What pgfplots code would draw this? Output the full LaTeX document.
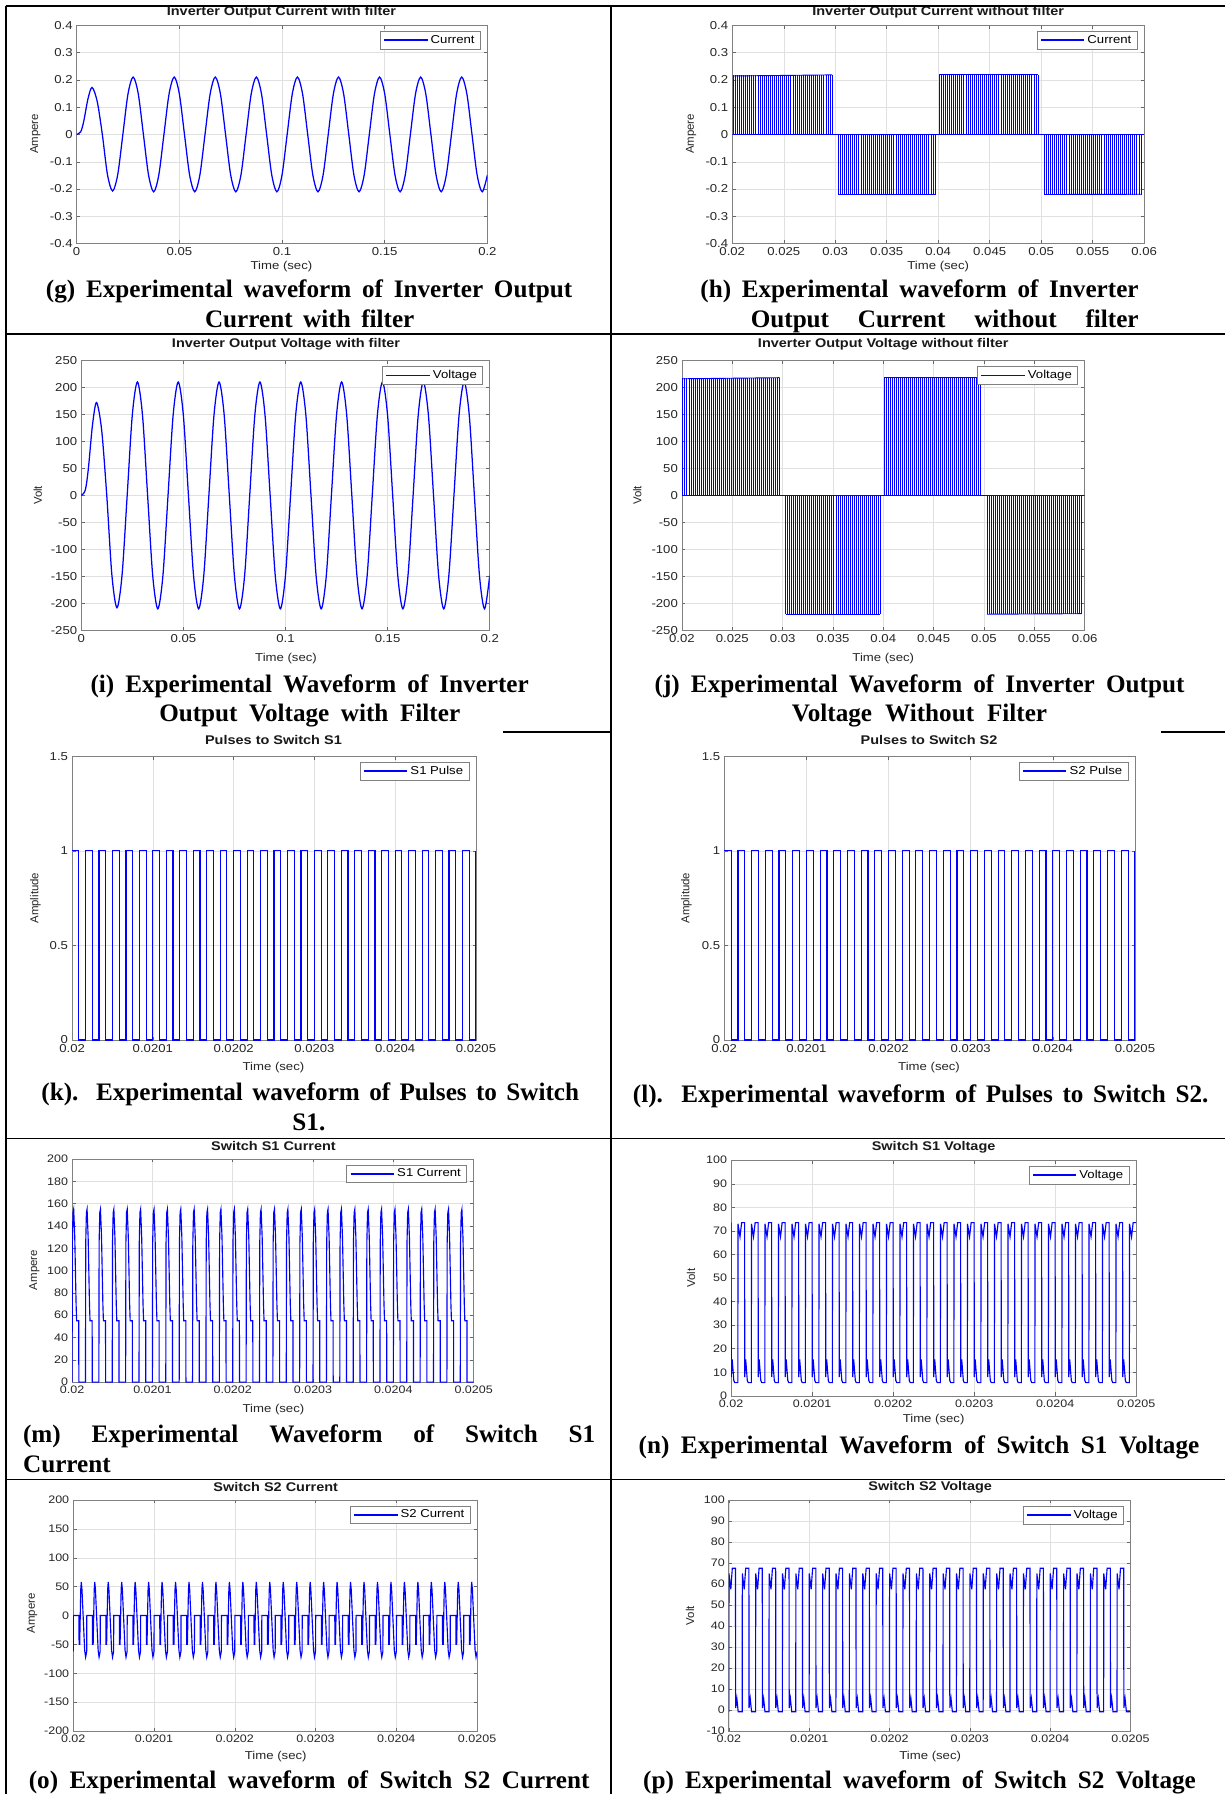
\documentclass[border=0pt]{standalone}
\usepackage{fontspec}
\setmainfont{Liberation Serif}
\newfontfamily\pf[FakeStretch=1.15]{Liberation Sans}
\newfontfamily\pfn{Liberation Sans}
\usepackage{pgfplots}
\pgfplotsset{compat=1.18}
\usepackage{pgfplotstable}

\pgfplotsset{
  mat/.style={
    scale only axis, anchor=north west, clip=true, scaled ticks=false,
    axis line style={draw=black!50, line width=0.6pt},
    grid=major, major grid style={draw=black!12, line width=0.4pt},
    tick align=inside, major tick length=3pt,
    tick style={draw=black!60, line width=0.4pt},
    ticklabel style={font=\pf\fontsize{10}{11}\selectfont, text=black!85},
    legend style={at={(1,1)}, anchor=north east, xshift=-6pt, yshift=-5pt,
      draw=black!50, fill=white, font=\pf\fontsize{10}{11}\selectfont,
      inner xsep=3pt, inner ysep=1.5pt},
    legend cell align=left,
    legend image code/.code={\draw[##1] (0pt,0pt) -- (38pt,0pt);},
  },
  micro/.style={xmin=0, xmax=30, xtick={0,6,12,18,24,30},
    xticklabels={0.02,0.0201,0.0202,0.0203,0.0204,0.0205}},
  tms/.style={xmin=0.02, xmax=0.06, xtick={0.02,0.025,0.03,0.035,0.04,0.045,0.05,0.055,0.06},
    xticklabels={0.02,0.025,0.03,0.035,0.04,0.045,0.05,0.055,0.06}},
  tlong/.style={xmin=0, xmax=0.2, xtick={0,0.05,0.1,0.15,0.2},
    xticklabels={0,0.05,0.1,0.15,0.2}},
}

% sine waves with filter: t, current (A), voltage (V)
\pgfplotstableread[row sep=\\]{t c v\\
0 0 0\\ 0.002 0.01 10\\ 0.0035 0.05 50\\ 0.0055 0.13 130\\ 0.0075 0.172 172\\ 0.01 0.121 121\\ 0.0125 0 0\\ 0.015 -0.147 -147\\ 0.0175 -0.207 -208\\ 0.02 -0.147 -147\\
0.0225 0 0\\ 0.025 0.1485 148.5\\ 0.0275 0.21 210\\ 0.03 0.1485 148.5\\ 0.0325 0 0\\ 0.035 -0.1485 -148.5\\ 0.0375 -0.21 -210\\ 0.04 -0.1485 -148.5\\
0.0425 0 0\\ 0.045 0.1485 148.5\\ 0.0475 0.21 210\\ 0.05 0.1485 148.5\\ 0.0525 0 0\\ 0.055 -0.1485 -148.5\\ 0.0575 -0.21 -210\\ 0.06 -0.1485 -148.5\\
0.0625 0 0\\ 0.065 0.1485 148.5\\ 0.0675 0.21 210\\ 0.07 0.1485 148.5\\ 0.0725 0 0\\ 0.075 -0.1485 -148.5\\ 0.0775 -0.21 -210\\ 0.08 -0.1485 -148.5\\
0.0825 0 0\\ 0.085 0.1485 148.5\\ 0.0875 0.21 210\\ 0.09 0.1485 148.5\\ 0.0925 0 0\\ 0.095 -0.1485 -148.5\\ 0.0975 -0.21 -210\\ 0.1 -0.1485 -148.5\\
0.1025 0 0\\ 0.105 0.1485 148.5\\ 0.1075 0.21 210\\ 0.11 0.1485 148.5\\ 0.1125 0 0\\ 0.115 -0.1485 -148.5\\ 0.1175 -0.21 -210\\ 0.12 -0.1485 -148.5\\
0.1225 0 0\\ 0.125 0.1485 148.5\\ 0.1275 0.21 210\\ 0.13 0.1485 148.5\\ 0.1325 0 0\\ 0.135 -0.1485 -148.5\\ 0.1375 -0.21 -210\\ 0.14 -0.1485 -148.5\\
0.1425 0 0\\ 0.145 0.1485 148.5\\ 0.1475 0.21 210\\ 0.15 0.1485 148.5\\ 0.1525 0 0\\ 0.155 -0.1485 -148.5\\ 0.1575 -0.21 -210\\ 0.16 -0.1485 -148.5\\
0.1625 0 0\\ 0.165 0.1485 148.5\\ 0.1675 0.21 210\\ 0.17 0.1485 148.5\\ 0.1725 0 0\\ 0.175 -0.1485 -148.5\\ 0.1775 -0.21 -210\\ 0.18 -0.1485 -148.5\\
0.1825 0 0\\ 0.185 0.1485 148.5\\ 0.1875 0.21 210\\ 0.19 0.1485 148.5\\ 0.1925 0 0\\ 0.195 -0.1485 -148.5\\ 0.1975 -0.21 -210\\ 0.2 -0.1485 -148.5\\
}\tabGI

% PWM edges without filter: x, current (A), voltage (V)
\pgfplotstableread[row sep=\\]{x c v\\
0.0201 0.218 218\\ 0.0203 0.218 218\\ 0.0205 0.218 218\\ 0.0207 0.218 218\\ 0.0209 0.218 218\\
0.0211 0.218 218\\ 0.0213 0.218 218\\ 0.0215 0.218 218\\ 0.0217 0.218 218\\ 0.0219 0.218 218\\
0.0221 0.218 218\\ 0.0223 0.218 218\\ 0.0225 0.218 218\\ 0.0227 0.218 218\\ 0.0229 0.218 218\\
0.0231 0.218 218\\ 0.0233 0.218 218\\ 0.0235 0.218 218\\ 0.0237 0.218 218\\ 0.0239 0.218 218\\
0.0241 0.218 218\\ 0.0243 0.218 218\\ 0.0245 0.218 218\\ 0.0247 0.218 218\\ 0.0249 0.218 218\\
0.0251 0.218 218\\ 0.0253 0.218 218\\ 0.0255 0.218 218\\ 0.0257 0.218 218\\ 0.0259 0.218 218\\
0.0261 0.218 218\\ 0.0263 0.218 218\\ 0.0265 0.218 218\\ 0.0267 0.218 218\\ 0.0269 0.218 218\\
0.0271 0.218 218\\ 0.0273 0.218 218\\ 0.0275 0.218 218\\ 0.0277 0.218 218\\ 0.0279 0.218 218\\
0.0281 0.218 218\\ 0.0283 0.218 218\\ 0.0285 0.218 218\\ 0.0287 0.218 218\\ 0.0289 0.218 218\\
0.0291 0.218 218\\ 0.0293 0.218 218\\ 0.0295 0.218 218\\ 0.0297 0.218 218\\
0.0303 -0.22 -220\\ 0.0305 -0.22 -220\\ 0.0307 -0.22 -220\\ 0.0309 -0.22 -220\\
0.0311 -0.22 -220\\ 0.0313 -0.22 -220\\ 0.0315 -0.22 -220\\ 0.0317 -0.22 -220\\ 0.0319 -0.22 -220\\
0.0321 -0.22 -220\\ 0.0323 -0.22 -220\\ 0.0325 -0.22 -220\\ 0.0327 -0.22 -220\\ 0.0329 -0.22 -220\\
0.0331 -0.22 -220\\ 0.0333 -0.22 -220\\ 0.0335 -0.22 -220\\ 0.0337 -0.22 -220\\ 0.0339 -0.22 -220\\
0.0341 -0.22 -220\\ 0.0343 -0.22 -220\\ 0.0345 -0.22 -220\\ 0.0347 -0.22 -220\\ 0.0349 -0.22 -220\\
0.0351 -0.22 -220\\ 0.0353 -0.22 -220\\ 0.0355 -0.22 -220\\ 0.0357 -0.22 -220\\ 0.0359 -0.22 -220\\
0.0361 -0.22 -220\\ 0.0363 -0.22 -220\\ 0.0365 -0.22 -220\\ 0.0367 -0.22 -220\\ 0.0369 -0.22 -220\\
0.0371 -0.22 -220\\ 0.0373 -0.22 -220\\ 0.0375 -0.22 -220\\ 0.0377 -0.22 -220\\ 0.0379 -0.22 -220\\
0.0381 -0.22 -220\\ 0.0383 -0.22 -220\\ 0.0385 -0.22 -220\\ 0.0387 -0.22 -220\\ 0.0389 -0.22 -220\\
0.0391 -0.22 -220\\ 0.0393 -0.22 -220\\ 0.0395 -0.22 -220\\ 0.0397 -0.22 -220\\
0.0401 0.218 219\\ 0.0403 0.218 219\\ 0.0405 0.218 219\\ 0.0407 0.218 219\\ 0.0409 0.218 219\\
0.0411 0.218 219\\ 0.0413 0.218 219\\ 0.0415 0.218 219\\ 0.0417 0.218 219\\ 0.0419 0.218 219\\
0.0421 0.218 219\\ 0.0423 0.218 219\\ 0.0425 0.218 219\\ 0.0427 0.218 219\\ 0.0429 0.218 219\\
0.0431 0.218 219\\ 0.0433 0.218 219\\ 0.0435 0.218 219\\ 0.0437 0.218 219\\ 0.0439 0.218 219\\
0.0441 0.218 219\\ 0.0443 0.218 219\\ 0.0445 0.218 219\\ 0.0447 0.218 219\\ 0.0449 0.218 219\\
0.0451 0.218 219\\ 0.0453 0.218 219\\ 0.0455 0.218 219\\ 0.0457 0.218 219\\ 0.0459 0.218 219\\
0.0461 0.218 219\\ 0.0463 0.218 219\\ 0.0465 0.218 219\\ 0.0467 0.218 219\\ 0.0469 0.218 219\\
0.0471 0.218 219\\ 0.0473 0.218 219\\ 0.0475 0.218 219\\ 0.0477 0.218 219\\ 0.0479 0.218 219\\
0.0481 0.218 219\\ 0.0483 0.218 219\\ 0.0485 0.218 219\\ 0.0487 0.218 219\\ 0.0489 0.218 219\\
0.0491 0.218 219\\ 0.0493 0.218 219\\ 0.0495 0.218 219\\ 0.0497 0.218 219\\
0.0503 -0.22 -220\\ 0.0505 -0.22 -220\\ 0.0507 -0.22 -220\\ 0.0509 -0.22 -220\\
0.0511 -0.22 -220\\ 0.0513 -0.22 -220\\ 0.0515 -0.22 -220\\ 0.0517 -0.22 -220\\ 0.0519 -0.22 -220\\
0.0521 -0.22 -220\\ 0.0523 -0.22 -220\\ 0.0525 -0.22 -220\\ 0.0527 -0.22 -220\\ 0.0529 -0.22 -220\\
0.0531 -0.22 -220\\ 0.0533 -0.22 -220\\ 0.0535 -0.22 -220\\ 0.0537 -0.22 -220\\ 0.0539 -0.22 -220\\
0.0541 -0.22 -220\\ 0.0543 -0.22 -220\\ 0.0545 -0.22 -220\\ 0.0547 -0.22 -220\\ 0.0549 -0.22 -220\\
0.0551 -0.22 -220\\ 0.0553 -0.22 -220\\ 0.0555 -0.22 -220\\ 0.0557 -0.22 -220\\ 0.0559 -0.22 -220\\
0.0561 -0.22 -220\\ 0.0563 -0.22 -220\\ 0.0565 -0.22 -220\\ 0.0567 -0.22 -220\\ 0.0569 -0.22 -220\\
0.0571 -0.22 -220\\ 0.0573 -0.22 -220\\ 0.0575 -0.22 -220\\ 0.0577 -0.22 -220\\ 0.0579 -0.22 -220\\
0.0581 -0.22 -220\\ 0.0583 -0.22 -220\\ 0.0585 -0.22 -220\\ 0.0587 -0.22 -220\\ 0.0589 -0.22 -220\\
0.0591 -0.22 -220\\ 0.0593 -0.22 -220\\ 0.0595 -0.22 -220\\ 0.0597 -0.22 -220\\
}\tabHJ

% gate pulses, x in switching periods (30 periods = 0.0005 s)
\pgfplotstableread[row sep=\\]{x y\\
0 1\\ 0.5 0\\ 1 1\\ 1.5 0\\ 2 1\\ 2.5 0\\ 3 1\\ 3.5 0\\ 4 1\\ 4.5 0\\ 5 1\\ 5.5 0\\
6 1\\ 6.5 0\\ 7 1\\ 7.5 0\\ 8 1\\ 8.5 0\\ 9 1\\ 9.5 0\\ 10 1\\ 10.5 0\\ 11 1\\ 11.5 0\\
12 1\\ 12.5 0\\ 13 1\\ 13.5 0\\ 14 1\\ 14.5 0\\ 15 1\\ 15.5 0\\ 16 1\\ 16.5 0\\ 17 1\\ 17.5 0\\
18 1\\ 18.5 0\\ 19 1\\ 19.5 0\\ 20 1\\ 20.5 0\\ 21 1\\ 21.5 0\\ 22 1\\ 22.5 0\\ 23 1\\ 23.5 0\\
24 1\\ 24.5 0\\ 25 1\\ 25.5 0\\ 26 1\\ 26.5 0\\ 27 1\\ 27.5 0\\ 28 1\\ 28.5 0\\ 29 1\\ 29.5 0\\
30 1\\
}\tabK

% switch S1 current
\pgfplotstableread[row sep=\\]{x y\\
0 0\\ 0.02 125\\ 0.07 152\\ 0.12 155\\ 0.2 130\\ 0.3 70\\ 0.34 55\\ 0.5 55\\ 0.505 0\\
1 0\\ 1.02 125\\ 1.07 152\\ 1.12 155\\ 1.2 130\\ 1.3 70\\ 1.34 55\\ 1.5 55\\ 1.505 0\\
2 0\\ 2.02 125\\ 2.07 152\\ 2.12 155\\ 2.2 130\\ 2.3 70\\ 2.34 55\\ 2.5 55\\ 2.505 0\\
3 0\\ 3.02 125\\ 3.07 152\\ 3.12 155\\ 3.2 130\\ 3.3 70\\ 3.34 55\\ 3.5 55\\ 3.505 0\\
4 0\\ 4.02 125\\ 4.07 152\\ 4.12 155\\ 4.2 130\\ 4.3 70\\ 4.34 55\\ 4.5 55\\ 4.505 0\\
5 0\\ 5.02 125\\ 5.07 152\\ 5.12 155\\ 5.2 130\\ 5.3 70\\ 5.34 55\\ 5.5 55\\ 5.505 0\\
6 0\\ 6.02 125\\ 6.07 152\\ 6.12 155\\ 6.2 130\\ 6.3 70\\ 6.34 55\\ 6.5 55\\ 6.505 0\\
7 0\\ 7.02 125\\ 7.07 152\\ 7.12 155\\ 7.2 130\\ 7.3 70\\ 7.34 55\\ 7.5 55\\ 7.505 0\\
8 0\\ 8.02 125\\ 8.07 152\\ 8.12 155\\ 8.2 130\\ 8.3 70\\ 8.34 55\\ 8.5 55\\ 8.505 0\\
9 0\\ 9.02 125\\ 9.07 152\\ 9.12 155\\ 9.2 130\\ 9.3 70\\ 9.34 55\\ 9.5 55\\ 9.505 0\\
10 0\\ 10.02 125\\ 10.07 152\\ 10.12 155\\ 10.2 130\\ 10.3 70\\ 10.34 55\\ 10.5 55\\ 10.505 0\\
11 0\\ 11.02 125\\ 11.07 152\\ 11.12 155\\ 11.2 130\\ 11.3 70\\ 11.34 55\\ 11.5 55\\ 11.505 0\\
12 0\\ 12.02 125\\ 12.07 152\\ 12.12 155\\ 12.2 130\\ 12.3 70\\ 12.34 55\\ 12.5 55\\ 12.505 0\\
13 0\\ 13.02 125\\ 13.07 152\\ 13.12 155\\ 13.2 130\\ 13.3 70\\ 13.34 55\\ 13.5 55\\ 13.505 0\\
14 0\\ 14.02 125\\ 14.07 152\\ 14.12 155\\ 14.2 130\\ 14.3 70\\ 14.34 55\\ 14.5 55\\ 14.505 0\\
15 0\\ 15.02 125\\ 15.07 152\\ 15.12 155\\ 15.2 130\\ 15.3 70\\ 15.34 55\\ 15.5 55\\ 15.505 0\\
16 0\\ 16.02 125\\ 16.07 152\\ 16.12 155\\ 16.2 130\\ 16.3 70\\ 16.34 55\\ 16.5 55\\ 16.505 0\\
17 0\\ 17.02 125\\ 17.07 152\\ 17.12 155\\ 17.2 130\\ 17.3 70\\ 17.34 55\\ 17.5 55\\ 17.505 0\\
18 0\\ 18.02 125\\ 18.07 152\\ 18.12 155\\ 18.2 130\\ 18.3 70\\ 18.34 55\\ 18.5 55\\ 18.505 0\\
19 0\\ 19.02 125\\ 19.07 152\\ 19.12 155\\ 19.2 130\\ 19.3 70\\ 19.34 55\\ 19.5 55\\ 19.505 0\\
20 0\\ 20.02 125\\ 20.07 152\\ 20.12 155\\ 20.2 130\\ 20.3 70\\ 20.34 55\\ 20.5 55\\ 20.505 0\\
21 0\\ 21.02 125\\ 21.07 152\\ 21.12 155\\ 21.2 130\\ 21.3 70\\ 21.34 55\\ 21.5 55\\ 21.505 0\\
22 0\\ 22.02 125\\ 22.07 152\\ 22.12 155\\ 22.2 130\\ 22.3 70\\ 22.34 55\\ 22.5 55\\ 22.505 0\\
23 0\\ 23.02 125\\ 23.07 152\\ 23.12 155\\ 23.2 130\\ 23.3 70\\ 23.34 55\\ 23.5 55\\ 23.505 0\\
24 0\\ 24.02 125\\ 24.07 152\\ 24.12 155\\ 24.2 130\\ 24.3 70\\ 24.34 55\\ 24.5 55\\ 24.505 0\\
25 0\\ 25.02 125\\ 25.07 152\\ 25.12 155\\ 25.2 130\\ 25.3 70\\ 25.34 55\\ 25.5 55\\ 25.505 0\\
26 0\\ 26.02 125\\ 26.07 152\\ 26.12 155\\ 26.2 130\\ 26.3 70\\ 26.34 55\\ 26.5 55\\ 26.505 0\\
27 0\\ 27.02 125\\ 27.07 152\\ 27.12 155\\ 27.2 130\\ 27.3 70\\ 27.34 55\\ 27.5 55\\ 27.505 0\\
28 0\\ 28.02 125\\ 28.07 152\\ 28.12 155\\ 28.2 130\\ 28.3 70\\ 28.34 55\\ 28.5 55\\ 28.505 0\\
29 0\\ 29.02 125\\ 29.07 152\\ 29.12 155\\ 29.2 130\\ 29.3 70\\ 29.34 55\\ 29.5 55\\ 29.505 0\\
30 0\\
}\tabM

% switch S1 voltage
\pgfplotstableread[row sep=\\]{x y\\
0 73.5\\ 0.01 8\\ 0.08 15.5\\ 0.2 6.5\\ 0.27 5.6\\ 0.5 5.6\\ 0.51 73\\ 0.66 67.5\\ 0.78 73.5\\
1 73.5\\ 1.01 8\\ 1.08 15.5\\ 1.2 6.5\\ 1.27 5.6\\ 1.5 5.6\\ 1.51 73\\ 1.66 67.5\\ 1.78 73.5\\
2 73.5\\ 2.01 8\\ 2.08 15.5\\ 2.2 6.5\\ 2.27 5.6\\ 2.5 5.6\\ 2.51 73\\ 2.66 67.5\\ 2.78 73.5\\
3 73.5\\ 3.01 8\\ 3.08 15.5\\ 3.2 6.5\\ 3.27 5.6\\ 3.5 5.6\\ 3.51 73\\ 3.66 67.5\\ 3.78 73.5\\
4 73.5\\ 4.01 8\\ 4.08 15.5\\ 4.2 6.5\\ 4.27 5.6\\ 4.5 5.6\\ 4.51 73\\ 4.66 67.5\\ 4.78 73.5\\
5 73.5\\ 5.01 8\\ 5.08 15.5\\ 5.2 6.5\\ 5.27 5.6\\ 5.5 5.6\\ 5.51 73\\ 5.66 67.5\\ 5.78 73.5\\
6 73.5\\ 6.01 8\\ 6.08 15.5\\ 6.2 6.5\\ 6.27 5.6\\ 6.5 5.6\\ 6.51 73\\ 6.66 67.5\\ 6.78 73.5\\
7 73.5\\ 7.01 8\\ 7.08 15.5\\ 7.2 6.5\\ 7.27 5.6\\ 7.5 5.6\\ 7.51 73\\ 7.66 67.5\\ 7.78 73.5\\
8 73.5\\ 8.01 8\\ 8.08 15.5\\ 8.2 6.5\\ 8.27 5.6\\ 8.5 5.6\\ 8.51 73\\ 8.66 67.5\\ 8.78 73.5\\
9 73.5\\ 9.01 8\\ 9.08 15.5\\ 9.2 6.5\\ 9.27 5.6\\ 9.5 5.6\\ 9.51 73\\ 9.66 67.5\\ 9.78 73.5\\
10 73.5\\ 10.01 8\\ 10.08 15.5\\ 10.2 6.5\\ 10.27 5.6\\ 10.5 5.6\\ 10.51 73\\ 10.66 67.5\\ 10.78 73.5\\
11 73.5\\ 11.01 8\\ 11.08 15.5\\ 11.2 6.5\\ 11.27 5.6\\ 11.5 5.6\\ 11.51 73\\ 11.66 67.5\\ 11.78 73.5\\
12 73.5\\ 12.01 8\\ 12.08 15.5\\ 12.2 6.5\\ 12.27 5.6\\ 12.5 5.6\\ 12.51 73\\ 12.66 67.5\\ 12.78 73.5\\
13 73.5\\ 13.01 8\\ 13.08 15.5\\ 13.2 6.5\\ 13.27 5.6\\ 13.5 5.6\\ 13.51 73\\ 13.66 67.5\\ 13.78 73.5\\
14 73.5\\ 14.01 8\\ 14.08 15.5\\ 14.2 6.5\\ 14.27 5.6\\ 14.5 5.6\\ 14.51 73\\ 14.66 67.5\\ 14.78 73.5\\
15 73.5\\ 15.01 8\\ 15.08 15.5\\ 15.2 6.5\\ 15.27 5.6\\ 15.5 5.6\\ 15.51 73\\ 15.66 67.5\\ 15.78 73.5\\
16 73.5\\ 16.01 8\\ 16.08 15.5\\ 16.2 6.5\\ 16.27 5.6\\ 16.5 5.6\\ 16.51 73\\ 16.66 67.5\\ 16.78 73.5\\
17 73.5\\ 17.01 8\\ 17.08 15.5\\ 17.2 6.5\\ 17.27 5.6\\ 17.5 5.6\\ 17.51 73\\ 17.66 67.5\\ 17.78 73.5\\
18 73.5\\ 18.01 8\\ 18.08 15.5\\ 18.2 6.5\\ 18.27 5.6\\ 18.5 5.6\\ 18.51 73\\ 18.66 67.5\\ 18.78 73.5\\
19 73.5\\ 19.01 8\\ 19.08 15.5\\ 19.2 6.5\\ 19.27 5.6\\ 19.5 5.6\\ 19.51 73\\ 19.66 67.5\\ 19.78 73.5\\
20 73.5\\ 20.01 8\\ 20.08 15.5\\ 20.2 6.5\\ 20.27 5.6\\ 20.5 5.6\\ 20.51 73\\ 20.66 67.5\\ 20.78 73.5\\
21 73.5\\ 21.01 8\\ 21.08 15.5\\ 21.2 6.5\\ 21.27 5.6\\ 21.5 5.6\\ 21.51 73\\ 21.66 67.5\\ 21.78 73.5\\
22 73.5\\ 22.01 8\\ 22.08 15.5\\ 22.2 6.5\\ 22.27 5.6\\ 22.5 5.6\\ 22.51 73\\ 22.66 67.5\\ 22.78 73.5\\
23 73.5\\ 23.01 8\\ 23.08 15.5\\ 23.2 6.5\\ 23.27 5.6\\ 23.5 5.6\\ 23.51 73\\ 23.66 67.5\\ 23.78 73.5\\
24 73.5\\ 24.01 8\\ 24.08 15.5\\ 24.2 6.5\\ 24.27 5.6\\ 24.5 5.6\\ 24.51 73\\ 24.66 67.5\\ 24.78 73.5\\
25 73.5\\ 25.01 8\\ 25.08 15.5\\ 25.2 6.5\\ 25.27 5.6\\ 25.5 5.6\\ 25.51 73\\ 25.66 67.5\\ 25.78 73.5\\
26 73.5\\ 26.01 8\\ 26.08 15.5\\ 26.2 6.5\\ 26.27 5.6\\ 26.5 5.6\\ 26.51 73\\ 26.66 67.5\\ 26.78 73.5\\
27 73.5\\ 27.01 8\\ 27.08 15.5\\ 27.2 6.5\\ 27.27 5.6\\ 27.5 5.6\\ 27.51 73\\ 27.66 67.5\\ 27.78 73.5\\
28 73.5\\ 28.01 8\\ 28.08 15.5\\ 28.2 6.5\\ 28.27 5.6\\ 28.5 5.6\\ 28.51 73\\ 28.66 67.5\\ 28.78 73.5\\
29 73.5\\ 29.01 8\\ 29.08 15.5\\ 29.2 6.5\\ 29.27 5.6\\ 29.5 5.6\\ 29.51 73\\ 29.66 67.5\\ 29.78 73.5\\
30 73.5\\
}\tabN

% switch S2 current
\pgfplotstableread[row sep=\\]{x y\\
0 -62\\ 0.01 0\\ 0.43 0\\ 0.435 -50\\ 0.48 -50\\ 0.56 45\\ 0.6 58\\ 0.65 45\\ 0.85 -60\\ 0.92 -72\\ 0.97 -66\\
1 -62\\ 1.01 0\\ 1.43 0\\ 1.435 -50\\ 1.48 -50\\ 1.56 45\\ 1.6 58\\ 1.65 45\\ 1.85 -60\\ 1.92 -72\\ 1.97 -66\\
2 -62\\ 2.01 0\\ 2.43 0\\ 2.435 -50\\ 2.48 -50\\ 2.56 45\\ 2.6 58\\ 2.65 45\\ 2.85 -60\\ 2.92 -72\\ 2.97 -66\\
3 -62\\ 3.01 0\\ 3.43 0\\ 3.435 -50\\ 3.48 -50\\ 3.56 45\\ 3.6 58\\ 3.65 45\\ 3.85 -60\\ 3.92 -72\\ 3.97 -66\\
4 -62\\ 4.01 0\\ 4.43 0\\ 4.435 -50\\ 4.48 -50\\ 4.56 45\\ 4.6 58\\ 4.65 45\\ 4.85 -60\\ 4.92 -72\\ 4.97 -66\\
5 -62\\ 5.01 0\\ 5.43 0\\ 5.435 -50\\ 5.48 -50\\ 5.56 45\\ 5.6 58\\ 5.65 45\\ 5.85 -60\\ 5.92 -72\\ 5.97 -66\\
6 -62\\ 6.01 0\\ 6.43 0\\ 6.435 -50\\ 6.48 -50\\ 6.56 45\\ 6.6 58\\ 6.65 45\\ 6.85 -60\\ 6.92 -72\\ 6.97 -66\\
7 -62\\ 7.01 0\\ 7.43 0\\ 7.435 -50\\ 7.48 -50\\ 7.56 45\\ 7.6 58\\ 7.65 45\\ 7.85 -60\\ 7.92 -72\\ 7.97 -66\\
8 -62\\ 8.01 0\\ 8.43 0\\ 8.435 -50\\ 8.48 -50\\ 8.56 45\\ 8.6 58\\ 8.65 45\\ 8.85 -60\\ 8.92 -72\\ 8.97 -66\\
9 -62\\ 9.01 0\\ 9.43 0\\ 9.435 -50\\ 9.48 -50\\ 9.56 45\\ 9.6 58\\ 9.65 45\\ 9.85 -60\\ 9.92 -72\\ 9.97 -66\\
10 -62\\ 10.01 0\\ 10.43 0\\ 10.435 -50\\ 10.48 -50\\ 10.56 45\\ 10.6 58\\ 10.65 45\\ 10.85 -60\\ 10.92 -72\\ 10.97 -66\\
11 -62\\ 11.01 0\\ 11.43 0\\ 11.435 -50\\ 11.48 -50\\ 11.56 45\\ 11.6 58\\ 11.65 45\\ 11.85 -60\\ 11.92 -72\\ 11.97 -66\\
12 -62\\ 12.01 0\\ 12.43 0\\ 12.435 -50\\ 12.48 -50\\ 12.56 45\\ 12.6 58\\ 12.65 45\\ 12.85 -60\\ 12.92 -72\\ 12.97 -66\\
13 -62\\ 13.01 0\\ 13.43 0\\ 13.435 -50\\ 13.48 -50\\ 13.56 45\\ 13.6 58\\ 13.65 45\\ 13.85 -60\\ 13.92 -72\\ 13.97 -66\\
14 -62\\ 14.01 0\\ 14.43 0\\ 14.435 -50\\ 14.48 -50\\ 14.56 45\\ 14.6 58\\ 14.65 45\\ 14.85 -60\\ 14.92 -72\\ 14.97 -66\\
15 -62\\ 15.01 0\\ 15.43 0\\ 15.435 -50\\ 15.48 -50\\ 15.56 45\\ 15.6 58\\ 15.65 45\\ 15.85 -60\\ 15.92 -72\\ 15.97 -66\\
16 -62\\ 16.01 0\\ 16.43 0\\ 16.435 -50\\ 16.48 -50\\ 16.56 45\\ 16.6 58\\ 16.65 45\\ 16.85 -60\\ 16.92 -72\\ 16.97 -66\\
17 -62\\ 17.01 0\\ 17.43 0\\ 17.435 -50\\ 17.48 -50\\ 17.56 45\\ 17.6 58\\ 17.65 45\\ 17.85 -60\\ 17.92 -72\\ 17.97 -66\\
18 -62\\ 18.01 0\\ 18.43 0\\ 18.435 -50\\ 18.48 -50\\ 18.56 45\\ 18.6 58\\ 18.65 45\\ 18.85 -60\\ 18.92 -72\\ 18.97 -66\\
19 -62\\ 19.01 0\\ 19.43 0\\ 19.435 -50\\ 19.48 -50\\ 19.56 45\\ 19.6 58\\ 19.65 45\\ 19.85 -60\\ 19.92 -72\\ 19.97 -66\\
20 -62\\ 20.01 0\\ 20.43 0\\ 20.435 -50\\ 20.48 -50\\ 20.56 45\\ 20.6 58\\ 20.65 45\\ 20.85 -60\\ 20.92 -72\\ 20.97 -66\\
21 -62\\ 21.01 0\\ 21.43 0\\ 21.435 -50\\ 21.48 -50\\ 21.56 45\\ 21.6 58\\ 21.65 45\\ 21.85 -60\\ 21.92 -72\\ 21.97 -66\\
22 -62\\ 22.01 0\\ 22.43 0\\ 22.435 -50\\ 22.48 -50\\ 22.56 45\\ 22.6 58\\ 22.65 45\\ 22.85 -60\\ 22.92 -72\\ 22.97 -66\\
23 -62\\ 23.01 0\\ 23.43 0\\ 23.435 -50\\ 23.48 -50\\ 23.56 45\\ 23.6 58\\ 23.65 45\\ 23.85 -60\\ 23.92 -72\\ 23.97 -66\\
24 -62\\ 24.01 0\\ 24.43 0\\ 24.435 -50\\ 24.48 -50\\ 24.56 45\\ 24.6 58\\ 24.65 45\\ 24.85 -60\\ 24.92 -72\\ 24.97 -66\\
25 -62\\ 25.01 0\\ 25.43 0\\ 25.435 -50\\ 25.48 -50\\ 25.56 45\\ 25.6 58\\ 25.65 45\\ 25.85 -60\\ 25.92 -72\\ 25.97 -66\\
26 -62\\ 26.01 0\\ 26.43 0\\ 26.435 -50\\ 26.48 -50\\ 26.56 45\\ 26.6 58\\ 26.65 45\\ 26.85 -60\\ 26.92 -72\\ 26.97 -66\\
27 -62\\ 27.01 0\\ 27.43 0\\ 27.435 -50\\ 27.48 -50\\ 27.56 45\\ 27.6 58\\ 27.65 45\\ 27.85 -60\\ 27.92 -72\\ 27.97 -66\\
28 -62\\ 28.01 0\\ 28.43 0\\ 28.435 -50\\ 28.48 -50\\ 28.56 45\\ 28.6 58\\ 28.65 45\\ 28.85 -60\\ 28.92 -72\\ 28.97 -66\\
29 -62\\ 29.01 0\\ 29.43 0\\ 29.435 -50\\ 29.48 -50\\ 29.56 45\\ 29.6 58\\ 29.65 45\\ 29.85 -60\\ 29.92 -72\\ 29.97 -66\\
30 -62\\
}\tabO

% switch S2 voltage
\pgfplotstableread[row sep=\\]{x y\\
0 -0.8\\ 0.01 65\\ 0.15 57.5\\ 0.26 67.5\\ 0.5 67.5\\ 0.51 1\\ 0.6 5.5\\ 0.7 -0.8\\
1 -0.8\\ 1.01 65\\ 1.15 57.5\\ 1.26 67.5\\ 1.5 67.5\\ 1.51 1\\ 1.6 5.5\\ 1.7 -0.8\\
2 -0.8\\ 2.01 65\\ 2.15 57.5\\ 2.26 67.5\\ 2.5 67.5\\ 2.51 1\\ 2.6 5.5\\ 2.7 -0.8\\
3 -0.8\\ 3.01 65\\ 3.15 57.5\\ 3.26 67.5\\ 3.5 67.5\\ 3.51 1\\ 3.6 5.5\\ 3.7 -0.8\\
4 -0.8\\ 4.01 65\\ 4.15 57.5\\ 4.26 67.5\\ 4.5 67.5\\ 4.51 1\\ 4.6 5.5\\ 4.7 -0.8\\
5 -0.8\\ 5.01 65\\ 5.15 57.5\\ 5.26 67.5\\ 5.5 67.5\\ 5.51 1\\ 5.6 5.5\\ 5.7 -0.8\\
6 -0.8\\ 6.01 65\\ 6.15 57.5\\ 6.26 67.5\\ 6.5 67.5\\ 6.51 1\\ 6.6 5.5\\ 6.7 -0.8\\
7 -0.8\\ 7.01 65\\ 7.15 57.5\\ 7.26 67.5\\ 7.5 67.5\\ 7.51 1\\ 7.6 5.5\\ 7.7 -0.8\\
8 -0.8\\ 8.01 65\\ 8.15 57.5\\ 8.26 67.5\\ 8.5 67.5\\ 8.51 1\\ 8.6 5.5\\ 8.7 -0.8\\
9 -0.8\\ 9.01 65\\ 9.15 57.5\\ 9.26 67.5\\ 9.5 67.5\\ 9.51 1\\ 9.6 5.5\\ 9.7 -0.8\\
10 -0.8\\ 10.01 65\\ 10.15 57.5\\ 10.26 67.5\\ 10.5 67.5\\ 10.51 1\\ 10.6 5.5\\ 10.7 -0.8\\
11 -0.8\\ 11.01 65\\ 11.15 57.5\\ 11.26 67.5\\ 11.5 67.5\\ 11.51 1\\ 11.6 5.5\\ 11.7 -0.8\\
12 -0.8\\ 12.01 65\\ 12.15 57.5\\ 12.26 67.5\\ 12.5 67.5\\ 12.51 1\\ 12.6 5.5\\ 12.7 -0.8\\
13 -0.8\\ 13.01 65\\ 13.15 57.5\\ 13.26 67.5\\ 13.5 67.5\\ 13.51 1\\ 13.6 5.5\\ 13.7 -0.8\\
14 -0.8\\ 14.01 65\\ 14.15 57.5\\ 14.26 67.5\\ 14.5 67.5\\ 14.51 1\\ 14.6 5.5\\ 14.7 -0.8\\
15 -0.8\\ 15.01 65\\ 15.15 57.5\\ 15.26 67.5\\ 15.5 67.5\\ 15.51 1\\ 15.6 5.5\\ 15.7 -0.8\\
16 -0.8\\ 16.01 65\\ 16.15 57.5\\ 16.26 67.5\\ 16.5 67.5\\ 16.51 1\\ 16.6 5.5\\ 16.7 -0.8\\
17 -0.8\\ 17.01 65\\ 17.15 57.5\\ 17.26 67.5\\ 17.5 67.5\\ 17.51 1\\ 17.6 5.5\\ 17.7 -0.8\\
18 -0.8\\ 18.01 65\\ 18.15 57.5\\ 18.26 67.5\\ 18.5 67.5\\ 18.51 1\\ 18.6 5.5\\ 18.7 -0.8\\
19 -0.8\\ 19.01 65\\ 19.15 57.5\\ 19.26 67.5\\ 19.5 67.5\\ 19.51 1\\ 19.6 5.5\\ 19.7 -0.8\\
20 -0.8\\ 20.01 65\\ 20.15 57.5\\ 20.26 67.5\\ 20.5 67.5\\ 20.51 1\\ 20.6 5.5\\ 20.7 -0.8\\
21 -0.8\\ 21.01 65\\ 21.15 57.5\\ 21.26 67.5\\ 21.5 67.5\\ 21.51 1\\ 21.6 5.5\\ 21.7 -0.8\\
22 -0.8\\ 22.01 65\\ 22.15 57.5\\ 22.26 67.5\\ 22.5 67.5\\ 22.51 1\\ 22.6 5.5\\ 22.7 -0.8\\
23 -0.8\\ 23.01 65\\ 23.15 57.5\\ 23.26 67.5\\ 23.5 67.5\\ 23.51 1\\ 23.6 5.5\\ 23.7 -0.8\\
24 -0.8\\ 24.01 65\\ 24.15 57.5\\ 24.26 67.5\\ 24.5 67.5\\ 24.51 1\\ 24.6 5.5\\ 24.7 -0.8\\
25 -0.8\\ 25.01 65\\ 25.15 57.5\\ 25.26 67.5\\ 25.5 67.5\\ 25.51 1\\ 25.6 5.5\\ 25.7 -0.8\\
26 -0.8\\ 26.01 65\\ 26.15 57.5\\ 26.26 67.5\\ 26.5 67.5\\ 26.51 1\\ 26.6 5.5\\ 26.7 -0.8\\
27 -0.8\\ 27.01 65\\ 27.15 57.5\\ 27.26 67.5\\ 27.5 67.5\\ 27.51 1\\ 27.6 5.5\\ 27.7 -0.8\\
28 -0.8\\ 28.01 65\\ 28.15 57.5\\ 28.26 67.5\\ 28.5 67.5\\ 28.51 1\\ 28.6 5.5\\ 28.7 -0.8\\
29 -0.8\\ 29.01 65\\ 29.15 57.5\\ 29.26 67.5\\ 29.5 67.5\\ 29.51 1\\ 29.6 5.5\\ 29.7 -0.8\\
30 -0.8\\
}\tabP

\newcommand{\capf}{\fontsize{22}{26}\selectfont\bfseries}
% justified caption line: x-left, width, baseline y, text
\newcommand{\capj}[4]{\node[anchor=base west,inner sep=0pt,font=\capf] at (#1pt,-#3pt) {\makebox[#2pt][s]{#4}};}
\newcommand{\ttl}[3]{\node[font=\pf\bfseries\fontsize{11}{12}\selectfont, text=black!90, inner sep=0pt] at (#1pt,-#2pt) {#3};}
\newcommand{\xl}[3]{\node[font=\pf\fontsize{10}{11}\selectfont, text=black!85, inner sep=0pt] at (#1pt,-#2pt) {#3};}
\newcommand{\yl}[3]{\node[rotate=90, font=\pfn\fontsize{10}{11}\selectfont, text=black!85, inner sep=0pt] at (#1pt,-#2pt) {#3};}

\begin{document}
\begin{tikzpicture}
\useasboundingbox (0pt,0pt) rectangle (1071pt,-1568pt);
\fill[white] (0pt,0pt) rectangle (1071pt,-1568pt);

% (g)
\begin{axis}[mat, tlong, at={(67pt,-22pt)}, width=359pt, height=191pt, ymin=-0.4, ymax=0.4,
  ytick={-0.4,-0.3,-0.2,-0.1,0,0.1,0.2,0.3,0.4}, yticklabels={-0.4,-0.3,-0.2,-0.1,0,0.1,0.2,0.3,0.4}]
\addlegendimage{blue, line width=1.3pt}\addlegendentry{Current}
\addplot[blue, line width=1.1pt, smooth, forget plot] table[x=t, y=c]{\tabGI};
\end{axis}

% (h)
\begin{axis}[mat, tms, at={(640pt,-22pt)}, width=360pt, height=191pt, ymin=-0.4, ymax=0.4,
  ytick={-0.4,-0.3,-0.2,-0.1,0,0.1,0.2,0.3,0.4}, yticklabels={-0.4,-0.3,-0.2,-0.1,0,0.1,0.2,0.3,0.4}]
\addlegendimage{blue, line width=1.3pt}\addlegendentry{Current}
\addplot[blue, line width=0.8pt, ycomb, forget plot] table[x=x, y=c]{\tabHJ};
\addplot[blue, line width=0.8pt, forget plot] coordinates {(0.02,0)(0.06,0)};
\addplot[blue, line width=0.8pt, forget plot] coordinates {(0.0201,0.214)(0.0297,0.218)};
\addplot[blue, line width=0.8pt, forget plot] coordinates {(0.0303,-0.22)(0.0397,-0.22)};
\addplot[blue, line width=0.8pt, forget plot] coordinates {(0.0401,0.218)(0.0497,0.218)};
\addplot[blue, line width=0.8pt, forget plot] coordinates {(0.0503,-0.22)(0.0597,-0.219)};
\end{axis}

% (i)
\begin{axis}[mat, tlong, at={(71pt,-315pt)}, width=357pt, height=236pt, ymin=-250, ymax=250,
  ytick={-250,-200,-150,-100,-50,0,50,100,150,200,250}, yticklabels={-250,-200,-150,-100,-50,0,50,100,150,200,250}]
\addlegendimage{blue, line width=1.3pt}\addlegendentry{Voltage}
\addplot[blue, line width=1.1pt, smooth, forget plot] table[x=t, y=v]{\tabGI};
\end{axis}

% (j)
\begin{axis}[mat, tms, at={(596pt,-315pt)}, width=352pt, height=236pt, ymin=-250, ymax=250,
  ytick={-250,-200,-150,-100,-50,0,50,100,150,200,250}, yticklabels={-250,-200,-150,-100,-50,0,50,100,150,200,250}]
\addlegendimage{blue, line width=1.3pt}\addlegendentry{Voltage}
\addplot[blue, line width=0.8pt, ycomb, forget plot] table[x=x, y=v]{\tabHJ};
\addplot[blue, line width=0.8pt, forget plot] coordinates {(0.02,0)(0.06,0)};
\addplot[blue, line width=0.8pt, forget plot] coordinates {(0.0201,216)(0.0297,218)};
\addplot[blue, line width=0.8pt, forget plot] coordinates {(0.0303,-220)(0.0397,-220)};
\addplot[blue, line width=0.8pt, forget plot] coordinates {(0.0401,219)(0.0497,219)};
\addplot[blue, line width=0.8pt, forget plot] coordinates {(0.0503,-220)(0.0597,-219)};
\end{axis}

% (k)
\begin{axis}[mat, micro, at={(63pt,-661pt)}, width=353pt, height=248pt, ymin=0, ymax=1.5,
  ytick={0,0.5,1,1.5}, yticklabels={0,0.5,1,1.5}]
\addlegendimage{blue, line width=1.3pt}\addlegendentry{S1 Pulse}
\addplot[blue, line width=1pt, const plot, forget plot] table[x=x, y=y]{\tabK};
\end{axis}

% (l)
\begin{axis}[mat, micro, at={(633pt,-661pt)}, width=359pt, height=248pt, ymin=0, ymax=1.5,
  ytick={0,0.5,1,1.5}, yticklabels={0,0.5,1,1.5}]
\addlegendimage{blue, line width=1.3pt}\addlegendentry{S2 Pulse}
\addplot[blue, line width=1pt, const plot, forget plot] table[x=x, y=y]{\tabK};
\end{axis}

% (m)
\begin{axis}[mat, micro, at={(63pt,-1013pt)}, width=351pt, height=195pt, ymin=0, ymax=200,
  ytick={0,20,40,60,80,100,120,140,160,180,200}, yticklabels={0,20,40,60,80,100,120,140,160,180,200},
  ticklabel style={font=\pf\fontsize{9.5}{10}\selectfont}]
\addlegendimage{blue, line width=1.3pt}\addlegendentry{S1 Current}
\addplot[blue, line width=1pt, forget plot] table[x=x, y=y]{\tabM};
\end{axis}

% (n)
\begin{axis}[mat, micro, at={(639pt,-1014pt)}, width=354pt, height=206pt, ymin=0, ymax=100,
  ytick={0,10,20,30,40,50,60,70,80,90,100}, yticklabels={0,10,20,30,40,50,60,70,80,90,100},
  ticklabel style={font=\pf\fontsize{9.5}{10}\selectfont}]
\addlegendimage{blue, line width=1.3pt}\addlegendentry{Voltage}
\addplot[blue, line width=1pt, forget plot] table[x=x, y=y]{\tabN};
\end{axis}

% (o)
\begin{axis}[mat, micro, at={(64pt,-1311pt)}, width=353pt, height=202pt, ymin=-200, ymax=200,
  ytick={-200,-150,-100,-50,0,50,100,150,200}, yticklabels={-200,-150,-100,-50,0,50,100,150,200},
  ticklabel style={font=\pf\fontsize{9.5}{10}\selectfont}]
\addlegendimage{blue, line width=1.3pt}\addlegendentry{S2 Current}
\addplot[blue, line width=1pt, forget plot] table[x=x, y=y]{\tabO};
\end{axis}

% (p)
\begin{axis}[mat, micro, at={(637pt,-1311pt)}, width=351pt, height=202pt, ymin=-10, ymax=100,
  ytick={-10,0,10,20,30,40,50,60,70,80,90,100}, yticklabels={-10,0,10,20,30,40,50,60,70,80,90,100},
  ticklabel style={font=\pf\fontsize{9.5}{10}\selectfont}]
\addlegendimage{blue, line width=1.3pt}\addlegendentry{Voltage}
\addplot[blue, line width=1pt, forget plot] table[x=x, y=y]{\tabP};
\end{axis}

% titles
\ttl{246}{11}{Inverter Output Current with filter}
\ttl{820}{11}{Inverter Output Current without filter}
\ttl{250}{301}{Inverter Output Voltage with filter}
\ttl{772}{301}{Inverter Output Voltage without filter}
\ttl{239}{647}{Pulses to Switch S1}
\ttl{812}{647}{Pulses to Switch S2}
\ttl{239}{1002}{Switch S1 Current}
\ttl{816}{1003}{Switch S1 Voltage}
\ttl{241}{1300}{Switch S2 Current}
\ttl{813}{1300}{Switch S2 Voltage}

% x labels
\xl{246}{233}{Time (sec)}
\xl{820}{233}{Time (sec)}
\xl{250}{576}{Time (sec)}
\xl{772}{576}{Time (sec)}
\xl{239}{933}{Time (sec)}
\xl{812}{933}{Time (sec)}
\xl{239}{1232}{Time (sec)}
\xl{816}{1241}{Time (sec)}
\xl{241}{1535}{Time (sec)}
\xl{813}{1535}{Time (sec)}

% y labels
\yl{31}{117}{Ampere}
\yl{604}{117}{Ampere}
\yl{33}{433}{Volt}
\yl{557}{433}{Volt}
\yl{31}{785}{Amplitude}
\yl{600}{785}{Amplitude}
\yl{30}{1110}{Ampere}
\yl{604}{1117}{Volt}
\yl{28}{1410}{Ampere}
\yl{603}{1412}{Volt}

% captions
\capj{40}{460}{260}{(g) Experimental waveform of Inverter Output}
\capj{179}{183}{286}{Current with filter}
\capj{612}{383}{260}{(h) Experimental waveform of Inverter}
\capj{656}{339}{286}{Output Current without filter}
\capj{79}{383}{605}{(i) Experimental Waveform of Inverter}
\capj{139}{263}{631}{Output Voltage with Filter}
\capj{572}{463}{605}{(j) Experimental Waveform of Inverter Output}
\capj{692}{223}{631}{Voltage Without Filter}
\capj{36}{470}{962}{(k). Experimental waveform of Pulses to Switch}
\node[anchor=base,inner sep=0pt,font=\capf] at (270pt,-988pt) {S1.};
\capj{553}{503}{964}{(l). Experimental waveform of Pulses to Switch S2.}
\capj{20}{500}{1261}{(m) Experimental Waveform of Switch S1}
\node[anchor=base west,inner sep=0pt,font=\capf] at (20pt,-1287pt) {Current};
\capj{558}{490}{1270}{(n) Experimental Waveform of Switch S1 Voltage}
\capj{25}{490}{1563}{(o) Experimental waveform of Switch S2 Current}
\capj{562}{483}{1563}{(p) Experimental waveform of Switch S2 Voltage}

% table rules
\draw[line width=1.8pt] (5pt,-5pt) -- (1071pt,-5pt);
\draw[line width=1.8pt] (5pt,-5pt) -- (5pt,-1568pt);
\draw[line width=1.5pt] (534pt,-5pt) -- (534pt,-1568pt);
\draw[line width=1.5pt] (5pt,-292pt) -- (1071pt,-292pt);
\draw[line width=1.5pt] (440pt,-640pt) -- (534pt,-640pt);
\draw[line width=1.5pt] (1015pt,-640pt) -- (1071pt,-640pt);
\draw[line width=1.5pt] (5pt,-995pt) -- (1071pt,-995pt);
\draw[line width=1.5pt] (5pt,-1293pt) -- (1071pt,-1293pt);
\end{tikzpicture}
\end{document}
